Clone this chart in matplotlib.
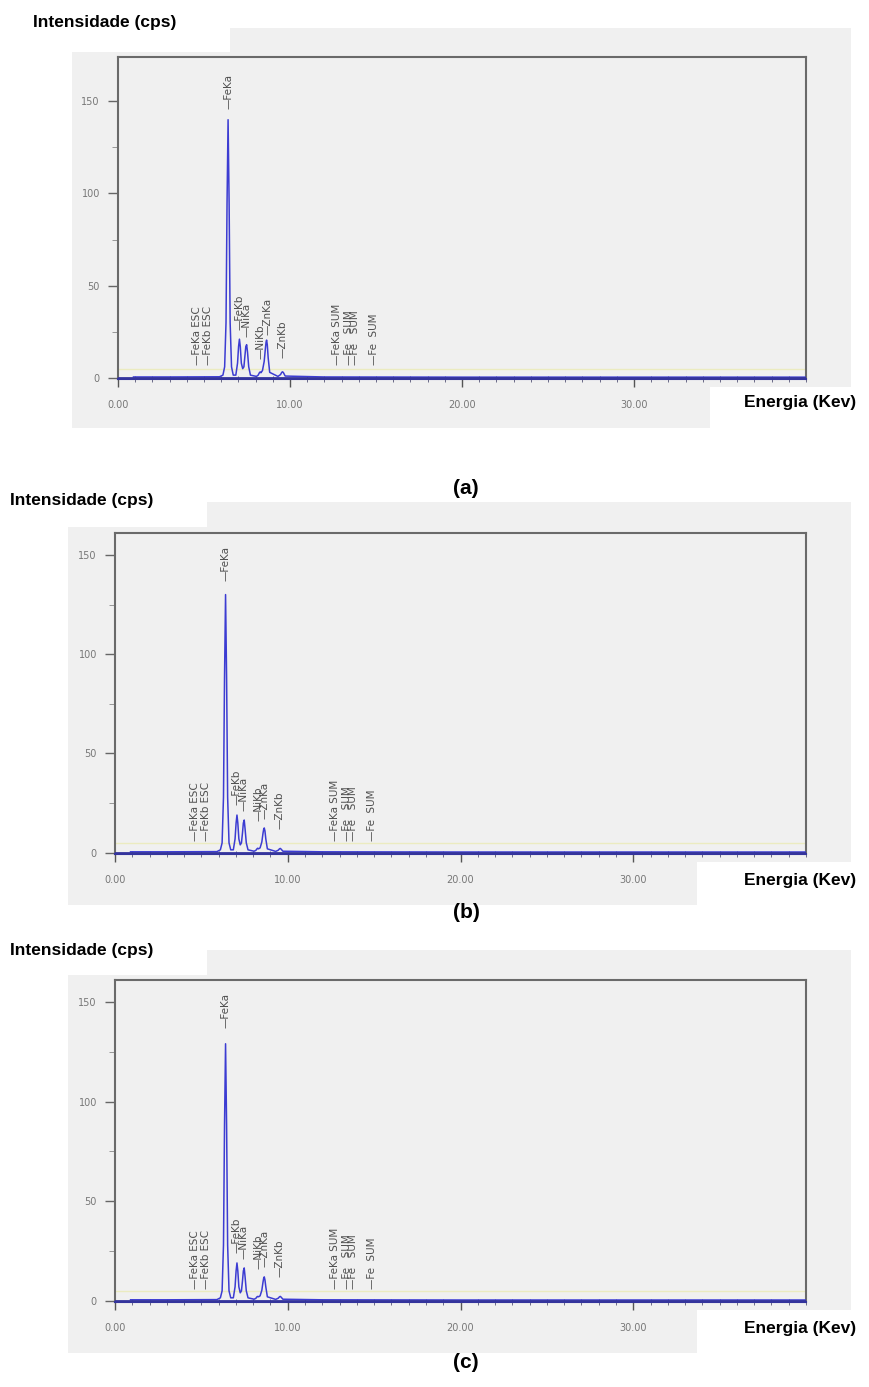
import matplotlib.pyplot as plt
from matplotlib.patches import Rectangle
from matplotlib.ticker import MultipleLocator, FixedLocator, FuncFormatter

W, H = 869, 1387

# energy grid (keV), dense around the peaks
energy = [0.9, 3.0, 5.9, 6.1, 6.2, 6.28, 6.34, 6.40, 6.46, 6.52, 6.6, 6.7,
          6.85, 6.95, 7.01, 7.06, 7.11, 7.17, 7.25, 7.32, 7.38, 7.43, 7.48,
          7.53, 7.6, 7.7, 8.05, 8.15, 8.22, 8.26, 8.31, 8.4, 8.5, 8.57, 8.61,
          8.64, 8.68, 8.73, 8.82, 9.3, 9.45, 9.52, 9.57, 9.62, 9.72, 12.0,
          20.0, 30.0, 40.0]

counts_a = [0.5, 0.5, 0.6, 1.5, 6, 30, 95, 140, 95, 30, 6, 1.5,
            1.5, 8, 17, 21, 17, 8, 5, 6, 12, 17, 18,
            14, 6, 1.5, 0.8, 1.5, 2.8, 3.2, 2.8, 4, 9, 16, 19.5,
            20.5, 18, 11, 3, 0.8, 1.8, 3, 3.3, 2.8, 1, 0.5,
            0.4, 0.4, 0.4]

counts_b = [0.5, 0.5, 0.6, 1.5, 5, 28, 88, 130, 88, 28, 5, 1.5,
            1.5, 7, 15, 19, 15, 7, 4, 5, 10, 15, 16.5,
            12, 5, 1.5, 0.8, 1.2, 2, 2.3, 2, 2.5, 5.5, 10, 12,
            12.5, 11, 7, 2, 0.7, 1.3, 2, 2.2, 1.8, 0.8, 0.5,
            0.4, 0.4, 0.4]

counts_c = [0.5, 0.5, 0.6, 1.5, 5, 28, 88, 129, 88, 28, 5, 1.5,
            1.5, 7, 15, 19, 15, 7, 4, 5, 10, 15, 16.5,
            12, 5, 1.5, 0.8, 1.2, 2, 2.2, 2, 2.5, 5.3, 9.5, 11.5,
            12, 10.5, 7, 2, 0.7, 1.3, 2, 2.2, 1.8, 0.8, 0.5,
            0.4, 0.4, 0.4]

line_names = ["FeKa ESC", "FeKb ESC", "FeKa", "FeKb", "NiKa", "NiKb",
              "ZnKa", "ZnKb", "FeKa SUM", "Fe   SUM", "Fe   SUM", "Fe  SUM"]
line_energies = [4.62, 5.25, 6.40, 7.06, 7.45, 8.28, 8.68, 9.55,
                 12.75, 13.45, 13.78, 14.9]
label_base_a = [7, 7, 146, 26, 22, 10, 23, 11, 7, 7, 7, 7]
label_base_b = [6, 6, 137, 24, 21, 16, 17, 12, 6, 6, 6, 6]
label_base_c = [6, 6, 137, 24, 21, 16, 17, 12, 6, 6, 6, 6]

x_ticks = [0, 10, 20, 30]
threshold_line = 5
ytop = [174, 161, 161]

GRAY = '#f0f0f0'


def frac_rect(x0, y0, x1, y1):
    return [x0 / W, 1 - y1 / H, (x1 - x0) / W, (y1 - y0) / H]


def add_box(fig, x0, y0, x1, y1, color, z):
    l, b, w, h = frac_rect(x0, y0, x1, y1)
    fig.patches.append(Rectangle((l, b), w, h, transform=fig.transFigure,
                                 facecolor=color, edgecolor='none', zorder=z))


def draw_panel(fig, box, counts, label_base, top):
    ax = fig.add_axes(frac_rect(*box))
    ax.set_facecolor(GRAY)
    ax.axhline(threshold_line, color='#ebebc0', lw=1, zorder=1)
    ax.plot(energy, counts, color='#3c3cd2', lw=1.1, zorder=3)
    ax.axhline(0, color='#34349c', lw=2, zorder=4)

    for name, e, b in zip(line_names, line_energies, label_base):
        ax.text(e, b, '\u2014' + name, rotation=90, ha='center', va='bottom',
                fontsize=7.5, color='#505050', family='DejaVu Sans')

    ax.set_xlim(0, 40)
    ax.set_ylim(-0.6, top)
    ax.xaxis.set_major_locator(FixedLocator(x_ticks))
    ax.xaxis.set_minor_locator(MultipleLocator(1))
    ax.xaxis.set_major_formatter(FuncFormatter(lambda v, p: f"{v:.2f}"))
    ax.yaxis.set_major_locator(MultipleLocator(50))
    ax.yaxis.set_minor_locator(MultipleLocator(25))
    ax.tick_params(axis='x', which='major', length=6, width=1, pad=9,
                   color='#555555', labelcolor='#777777', labelsize=7)
    ax.tick_params(axis='x', which='minor', direction='inout', length=4,
                   color='#555577')
    ax.tick_params(axis='y', which='major', length=7, width=1, pad=6,
                   color='#666666', labelcolor='#777777', labelsize=7)
    ax.tick_params(axis='y', which='minor', length=4, color='#888888')
    for s in ax.spines.values():
        s.set_color('#6a6a6a')
        s.set_linewidth(1.5)
    ax.spines['bottom'].set_color('#34349c')
    return ax


fig = plt.figure(figsize=(W / 100, H / 100), dpi=100)
fig.patch.set_facecolor('white')

# grey screenshot areas with white label boxes on top
add_box(fig, 72, 28, 851, 428, GRAY, -3)
add_box(fig, 0, 0, 230, 52, 'white', -2)
add_box(fig, 710, 387, 869, 440, 'white', -2)

add_box(fig, 68, 502, 851, 905, GRAY, -3)
add_box(fig, 0, 480, 207, 527, 'white', -2)
add_box(fig, 697, 862, 869, 910, 'white', -2)

add_box(fig, 68, 950, 851, 1353, GRAY, -3)
add_box(fig, 0, 930, 207, 975, 'white', -2)
add_box(fig, 697, 1310, 869, 1360, 'white', -2)

draw_panel(fig, (118, 57, 806, 379), counts_a, label_base_a, ytop[0])
draw_panel(fig, (115, 533, 806, 854), counts_b, label_base_b, ytop[1])
draw_panel(fig, (115, 980, 806, 1302), counts_c, label_base_c, ytop[2])

bold = dict(family=['Liberation Sans', 'DejaVu Sans'], weight='bold', color='black')
for x, y in [(33, 23), (10, 500), (10, 950)]:
    fig.text(x / W, 1 - y / H, 'Intensidade (cps)', ha='left', va='center',
             fontsize=12.5, **bold)
for y in [403, 880, 1328]:
    fig.text(800 / W, 1 - y / H, 'Energia (Kev)', ha='center', va='center',
             fontsize=12.5, **bold)
for lab, y in [('(a)', 488), ('(b)', 912), ('(c)', 1362)]:
    fig.text(466 / W, 1 - y / H, lab, ha='center', va='center',
             fontsize=15, **bold)

fig.savefig('out.png', dpi=100)
